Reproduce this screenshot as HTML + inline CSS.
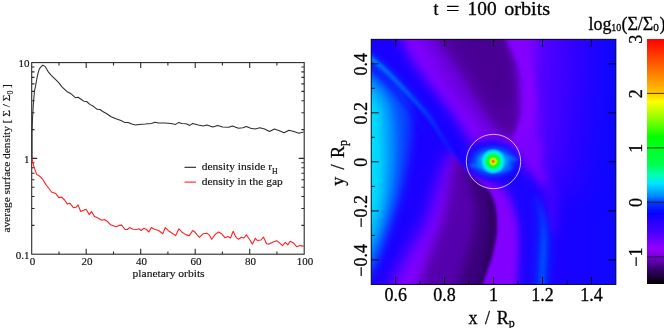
<!DOCTYPE html>
<html><head><meta charset="utf-8"><title>figure</title>
<style>html,body{margin:0;padding:0;background:#fff;overflow:hidden}svg{display:block}</style></head>
<body>
<svg width="664" height="328" viewBox="0 0 664 328">
<rect width="664" height="328" fill="#fff"/>
<g stroke="#2a2a2a" stroke-width="1.1" fill="none">
<rect x="31.7" y="62.6" width="272.5" height="191.6"/>
<path d="M59.0 254.2 v-2.8 M59.0 62.6 v2.8"/>
<path d="M86.2 254.2 v-5.5 M86.2 62.6 v5.5"/>
<path d="M113.5 254.2 v-2.8 M113.5 62.6 v2.8"/>
<path d="M140.7 254.2 v-5.5 M140.7 62.6 v5.5"/>
<path d="M167.9 254.2 v-2.8 M167.9 62.6 v2.8"/>
<path d="M195.2 254.2 v-5.5 M195.2 62.6 v5.5"/>
<path d="M222.4 254.2 v-2.8 M222.4 62.6 v2.8"/>
<path d="M249.7 254.2 v-5.5 M249.7 62.6 v5.5"/>
<path d="M276.9 254.2 v-2.8 M276.9 62.6 v2.8"/>
<path d="M31.7 225.4 h2.8 M304.2 225.4 h-2.8"/>
<path d="M31.7 208.5 h2.8 M304.2 208.5 h-2.8"/>
<path d="M31.7 196.5 h2.8 M304.2 196.5 h-2.8"/>
<path d="M31.7 187.2 h2.8 M304.2 187.2 h-2.8"/>
<path d="M31.7 179.7 h2.8 M304.2 179.7 h-2.8"/>
<path d="M31.7 173.2 h2.8 M304.2 173.2 h-2.8"/>
<path d="M31.7 167.7 h2.8 M304.2 167.7 h-2.8"/>
<path d="M31.7 162.8 h2.8 M304.2 162.8 h-2.8"/>
<path d="M31.7 158.4 h5.5 M304.2 158.4 h-5.5"/>
<path d="M31.7 129.6 h2.8 M304.2 129.6 h-2.8"/>
<path d="M31.7 112.7 h2.8 M304.2 112.7 h-2.8"/>
<path d="M31.7 100.7 h2.8 M304.2 100.7 h-2.8"/>
<path d="M31.7 91.4 h2.8 M304.2 91.4 h-2.8"/>
<path d="M31.7 83.9 h2.8 M304.2 83.9 h-2.8"/>
<path d="M31.7 77.4 h2.8 M304.2 77.4 h-2.8"/>
<path d="M31.7 71.9 h2.8 M304.2 71.9 h-2.8"/>
<path d="M31.7 67.0 h2.8 M304.2 67.0 h-2.8"/>
</g>
<polyline points="32.0,158.5 32.0,133.2 32.4,121.0 33.2,106.3 34.4,91.7 35.9,84.1 36.8,78.8 37.8,74.2 39.1,69.6 40.5,67.3 42.8,65.2 45.1,66.4 46.5,68.7 48.3,71.9 51.5,75.6 55.2,79.2 58.9,82.9 61.7,86.6 64.1,88.8 67.1,91.7 70.2,93.2 73.4,95.9 75.6,97.8 78.0,97.3 80.7,99.0 83.7,101.2 86.6,101.5 89.8,104.4 93.4,106.3 97.1,109.3 100.0,109.5 103.2,111.7 106.8,113.7 111.1,116.8 116.0,118.8 120.9,120.5 124.5,122.4 128.2,122.4 131.8,123.9 135.5,124.9 139.1,124.4 145.2,124.1 151.3,123.4 155.0,122.2 158.7,122.9 164.8,122.9 170.9,123.4 175.7,124.4 178.7,122.4 181.8,123.4 186.1,123.7 189.8,125.4 192.7,123.4 198.3,124.9 203.2,125.9 206.8,124.9 212.9,127.1 217.8,125.4 222.7,127.1 228.8,127.3 232.4,125.9 238.5,128.3 242.9,127.8 246.3,126.6 250.7,128.3 254.9,129.0 259.8,127.8 264.6,129.0 269.5,131.5 274.4,129.0 279.3,130.7 284.1,132.7 289.0,130.2 293.9,131.5 298.8,133.2 303.7,132.0" fill="none" stroke="#2c2c2c" stroke-width="1.05" stroke-linejoin="round"/>
<polyline points="32.0,158.5 33.7,165.9 36.6,174.4 39.8,176.3 42.7,179.3 45.9,184.6 49.0,188.5 51.5,192.0 55.6,193.4 58.8,197.6 61.7,197.1 64.6,200.0 67.3,204.1 69.8,203.2 73.4,207.6 75.9,207.3 78.0,204.9 80.7,211.5 86.1,209.3 89.3,214.6 91.5,211.5 94.6,216.6 98.3,218.3 102.0,220.2 104.4,219.5 107.4,221.5 111.1,225.1 116.0,226.8 119.1,225.4 121.6,225.1 125.0,229.5 127.4,229.5 129.4,227.6 133.0,229.3 136.7,229.5 139.1,228.8 141.1,230.5 144.0,228.3 146.5,229.5 148.9,232.0 151.3,227.6 155.0,229.5 158.7,230.5 162.8,233.7 165.2,227.6 168.4,230.7 172.1,233.2 175.7,235.6 178.9,228.8 181.8,232.0 186.1,234.9 189.3,235.6 192.7,230.5 194.6,231.7 197.1,234.9 199.5,237.3 203.2,233.7 206.8,233.2 209.3,234.9 211.7,239.3 215.4,234.1 218.5,232.0 221.5,233.7 225.1,237.8 228.0,236.6 230.5,238.0 233.2,231.2 235.6,236.6 238.5,239.3 241.5,237.3 243.9,238.0 246.3,234.9 249.5,239.3 252.4,244.1 255.4,238.3 257.3,240.5 261.0,240.0 263.4,237.1 266.6,243.7 269.0,244.1 273.2,242.0 276.8,240.7 279.8,243.2 282.4,245.6 285.4,242.4 287.8,244.9 290.2,241.2 293.4,242.9 296.8,246.8 300.0,245.6 303.7,246.1" fill="none" stroke="#f22" stroke-width="1.1" stroke-linejoin="round"/>
<g font-family="Liberation Serif, serif" font-size="11" fill="#111" stroke="#111" stroke-width="0.15" opacity="0.999">
<text x="32.4" y="265.3" text-anchor="middle">0</text>
<text x="86.9" y="265.3" text-anchor="middle">20</text>
<text x="141.4" y="265.3" text-anchor="middle">40</text>
<text x="195.9" y="265.3" text-anchor="middle">60</text>
<text x="250.4" y="265.3" text-anchor="middle">80</text>
<text x="304.9" y="265.3" text-anchor="middle">100</text>
<text x="29.5" y="66.9" text-anchor="end">10</text>
<text x="29.5" y="162.7" text-anchor="end">1</text>
<text x="29.5" y="258.5" text-anchor="end">0.1</text>
<text x="132.6" y="276.8" textLength="72" lengthAdjust="spacingAndGlyphs">planetary orbits</text>
<text x="201.7" y="169.8" textLength="76" lengthAdjust="spacingAndGlyphs">density inside r<tspan font-size="7.5" dy="4.2">H</tspan></text>
<text x="201.7" y="184.8" textLength="81" lengthAdjust="spacingAndGlyphs">density in the gap</text>
<text transform="translate(9.5,232.6) rotate(-90)" textLength="148.5" lengthAdjust="spacingAndGlyphs">average surface density [ Σ / Σ<tspan font-size="7.5" dy="3.3">0</tspan><tspan dy="-3.3"> ]</tspan></text>
</g>
<path d="M184.5 167.3 H196" stroke="#222" stroke-width="1.1"/>
<path d="M184.5 182.1 H196" stroke="#f22" stroke-width="1.1"/>
<defs>
<clipPath id="mc"><rect x="371.2" y="39.3" width="244.7" height="245.1"/></clipPath>
<clipPath id="cl"><path d="M350.0 42.0 C353.6 44.8 365.7 54.3 371.5 59.0 C377.3 63.7 380.2 65.7 385.0 70.0 C389.8 74.3 395.2 80.0 400.0 85.0 C404.8 90.0 409.8 95.5 414.0 100.0 C418.2 104.5 422.0 108.5 425.0 112.0 C428.0 115.5 429.5 117.3 432.0 121.0 C434.5 124.7 437.3 129.8 440.0 134.0 C442.7 138.2 445.3 142.2 448.0 146.0 C450.7 149.8 453.3 153.5 456.0 157.0 C458.7 160.5 461.3 163.8 464.0 167.0 C466.7 170.2 469.3 173.3 472.0 176.0 C474.7 178.7 477.5 180.8 480.0 183.0 C482.5 185.2 485.0 186.7 487.0 189.0 C489.0 191.3 490.7 194.2 492.0 197.0 C493.3 199.8 494.2 201.8 495.0 206.0 C495.8 210.2 496.8 216.8 497.0 222.0 C497.2 227.2 496.7 232.0 496.0 237.0 C495.3 242.0 494.0 247.7 493.0 252.0 C492.0 256.3 491.2 259.3 490.0 263.0 C488.8 266.7 488.0 267.8 486.0 274.0 C484.0 280.2 479.3 295.7 478.0 300.0 L300 300 L300 -50 L349 -50 Z"/></clipPath>
<clipPath id="cr"><path d="M350.0 42.0 C353.6 44.8 365.7 54.3 371.5 59.0 C377.3 63.7 380.2 65.7 385.0 70.0 C389.8 74.3 395.2 80.0 400.0 85.0 C404.8 90.0 409.8 95.5 414.0 100.0 C418.2 104.5 422.0 108.5 425.0 112.0 C428.0 115.5 429.5 117.3 432.0 121.0 C434.5 124.7 437.3 129.8 440.0 134.0 C442.7 138.2 445.3 142.2 448.0 146.0 C450.7 149.8 453.3 153.5 456.0 157.0 C458.7 160.5 461.3 163.8 464.0 167.0 C466.7 170.2 469.3 173.3 472.0 176.0 C474.7 178.7 477.5 180.8 480.0 183.0 C482.5 185.2 485.0 186.7 487.0 189.0 C489.0 191.3 490.7 194.2 492.0 197.0 C493.3 199.8 494.2 201.8 495.0 206.0 C495.8 210.2 496.8 216.8 497.0 222.0 C497.2 227.2 496.7 232.0 496.0 237.0 C495.3 242.0 494.0 247.7 493.0 252.0 C492.0 256.3 491.2 259.3 490.0 263.0 C488.8 266.7 488.0 267.8 486.0 274.0 C484.0 280.2 479.3 295.7 478.0 300.0 L700 300 L700 -50 L350 -50 Z"/></clipPath>
<filter id="b1" filterUnits="userSpaceOnUse" x="260" y="-80" width="480" height="480" color-interpolation-filters="sRGB"><feGaussianBlur stdDeviation="1.2"/></filter>
<filter id="b15" filterUnits="userSpaceOnUse" x="260" y="-80" width="480" height="480" color-interpolation-filters="sRGB"><feGaussianBlur stdDeviation="1.6"/></filter>
<filter id="b2" filterUnits="userSpaceOnUse" x="260" y="-80" width="480" height="480" color-interpolation-filters="sRGB"><feGaussianBlur stdDeviation="2"/></filter>
<filter id="b3" filterUnits="userSpaceOnUse" x="260" y="-80" width="480" height="480" color-interpolation-filters="sRGB"><feGaussianBlur stdDeviation="3"/></filter>
<filter id="b4" filterUnits="userSpaceOnUse" x="260" y="-80" width="480" height="480" color-interpolation-filters="sRGB"><feGaussianBlur stdDeviation="4"/></filter>
<filter id="b5" filterUnits="userSpaceOnUse" x="260" y="-80" width="480" height="480" color-interpolation-filters="sRGB"><feGaussianBlur stdDeviation="5"/></filter>
<filter id="b6" filterUnits="userSpaceOnUse" x="260" y="-80" width="480" height="480" color-interpolation-filters="sRGB"><feGaussianBlur stdDeviation="6"/></filter>
<filter id="b8" filterUnits="userSpaceOnUse" x="260" y="-80" width="480" height="480" color-interpolation-filters="sRGB"><feGaussianBlur stdDeviation="8"/></filter>
<filter id="b10" filterUnits="userSpaceOnUse" x="260" y="-80" width="480" height="480" color-interpolation-filters="sRGB"><feGaussianBlur stdDeviation="10"/></filter>
<filter id="b12" filterUnits="userSpaceOnUse" x="260" y="-80" width="480" height="480" color-interpolation-filters="sRGB"><feGaussianBlur stdDeviation="12"/></filter>
<filter id="b18" filterUnits="userSpaceOnUse" x="260" y="-80" width="480" height="480" color-interpolation-filters="sRGB"><feGaussianBlur stdDeviation="18"/></filter>
<radialGradient id="cy" gradientUnits="userSpaceOnUse" cx="0" cy="0" r="1" gradientTransform="translate(364,172) scale(54,124)">
<stop offset="0" stop-color="#00e4ff" stop-opacity="1"/>
<stop offset="0.36" stop-color="#00dcff" stop-opacity="1"/>
<stop offset="0.5" stop-color="#00b8ff" stop-opacity="1"/>
<stop offset="0.62" stop-color="#0080ff" stop-opacity="1"/>
<stop offset="0.74" stop-color="#0048ff" stop-opacity="0.9"/>
<stop offset="0.88" stop-color="#0c18ff" stop-opacity="0.6"/>
<stop offset="1" stop-color="#1800ff" stop-opacity="0"/>
</radialGradient>
<radialGradient id="pl" gradientUnits="userSpaceOnUse" cx="493.2" cy="161.4" r="13">
<stop offset="0" stop-color="#ff3000" stop-opacity="1"/>
<stop offset="0.06" stop-color="#ff5800" stop-opacity="1"/>
<stop offset="0.14" stop-color="#ffd000" stop-opacity="1"/>
<stop offset="0.24" stop-color="#a8ff00" stop-opacity="1"/>
<stop offset="0.38" stop-color="#10ff10" stop-opacity="1"/>
<stop offset="0.54" stop-color="#00ff70" stop-opacity="1"/>
<stop offset="0.68" stop-color="#00f8d0" stop-opacity="1"/>
<stop offset="0.8" stop-color="#00d8ff" stop-opacity="1"/>
<stop offset="0.91" stop-color="#00b8ff" stop-opacity="0.7"/>
<stop offset="1" stop-color="#00a0ff" stop-opacity="0"/>
</radialGradient>
<radialGradient id="ph" gradientUnits="userSpaceOnUse" cx="0" cy="0" r="1" gradientTransform="translate(493.2,161.4) scale(32,22)">
<stop offset="0" stop-color="#00b4ff" stop-opacity="1"/>
<stop offset="0.36" stop-color="#00a4ff" stop-opacity="1"/>
<stop offset="0.48" stop-color="#0078ff" stop-opacity="1"/>
<stop offset="0.62" stop-color="#0840ff" stop-opacity="0.85"/>
<stop offset="0.8" stop-color="#1410ff" stop-opacity="0.5"/>
<stop offset="1" stop-color="#1800ff" stop-opacity="0"/>
</radialGradient>
<linearGradient id="sg" gradientUnits="userSpaceOnUse" x1="371" y1="59" x2="460" y2="160"><stop offset="0" stop-color="#0088ff" stop-opacity="1"/><stop offset="0.35" stop-color="#0070ff" stop-opacity="0.8"/><stop offset="0.6" stop-color="#0058ff" stop-opacity="0.55"/><stop offset="0.85" stop-color="#0048ff" stop-opacity="0.3"/><stop offset="1" stop-color="#0040ff" stop-opacity="0.05"/></linearGradient>
<linearGradient id="sg2" gradientUnits="userSpaceOnUse" x1="371" y1="59" x2="460" y2="160"><stop offset="0" stop-color="#0040ff" stop-opacity="1"/><stop offset="0.4" stop-color="#0030ff" stop-opacity="0.6"/><stop offset="0.7" stop-color="#0020ff" stop-opacity="0.2"/><stop offset="1" stop-color="#0020ff" stop-opacity="0"/></linearGradient>
<linearGradient id="bg" gradientUnits="userSpaceOnUse" x1="371" y1="0" x2="616" y2="0"><stop offset="0" stop-color="#1a00ff"/><stop offset="0.75" stop-color="#1c00ff"/><stop offset="1" stop-color="#0e08ff"/></linearGradient>
<linearGradient id="wg" gradientUnits="userSpaceOnUse" x1="0" y1="192" x2="0" y2="245"><stop offset="0" stop-color="#0050ff" stop-opacity="0"/><stop offset="1" stop-color="#0050ff" stop-opacity="1"/></linearGradient>
<linearGradient id="wg2" gradientUnits="userSpaceOnUse" x1="0" y1="192" x2="0" y2="245"><stop offset="0" stop-color="#0030ff" stop-opacity="0"/><stop offset="1" stop-color="#0030ff" stop-opacity="1"/></linearGradient>
</defs>
<g clip-path="url(#mc)">
<rect x="371" y="38" width="246" height="247" fill="url(#bg)"/>
<path d="M500.0 -20.0 L585.0 -20.0 L580.0 100.0 L570.0 190.0 L500.0 190.0 Z" fill="#4000ff" filter="url(#b18)"/>
<path d="M500.0 0.0 L550.0 0.0 L548.0 100.0 L543.0 165.0 L500.0 165.0 Z" fill="#5a00ff" filter="url(#b12)"/>
<g filter="url(#b15)">
<g clip-path="url(#cr)">
<path d="M386.0 10.0 L410.0 58.0 L429.0 84.0 L451.0 112.0 L467.0 136.0 L474.0 150.0 L476.0 160.0 L470.0 176.0 L470.0 300.0 L520.0 300.0 L522.0 252.0 L522.0 226.0 L520.0 199.0 L526.0 185.0 L536.0 170.0 L537.0 148.0 L537.0 118.0 L533.0 88.0 L535.0 58.0 L536.0 10.0 Z" fill="#8200ff" filter="url(#b6)"/>
<path d="M470.0 170.0 L516.0 185.0 L518.0 199.0 L516.0 226.0 L514.0 252.0 L510.0 300.0 L460.0 300.0 Z" fill="#8200ff" filter="url(#b5)"/>
</g>
<g clip-path="url(#cl)">
<path d="M452.0 150.0 L500.0 150.0 L520.0 300.0 L384.0 300.0 L396.0 274.0 L408.0 252.0 L426.0 222.0 L436.0 190.0 L444.0 165.0 Z" fill="#8200ff" filter="url(#b8)"/>
<path d="M454.0 156.0 L510.0 160.0 L510.0 300.0 L414.0 300.0 L430.0 252.0 L442.0 222.0 L448.0 195.0 L451.0 172.0 Z" fill="#5400ac" filter="url(#b6)"/>
<path d="M464.0 168.0 L510.0 172.0 L510.0 300.0 L452.0 300.0 L465.0 262.0 L473.0 235.0 L476.0 210.0 L472.0 190.0 Z" fill="#3c007c" filter="url(#b4)"/>
<path d="M484.0 186.0 L510.0 186.0 L510.0 300.0 L474.0 300.0 L484.0 262.0 L489.0 235.0 L490.0 212.0 L487.0 196.0 Z" fill="#2c0060" filter="url(#b3)"/>
</g>
</g>
<path d="M408.0 10.0 L422.0 38.0 L448.0 88.0 L472.0 118.0 L486.0 138.0 L515.0 138.0 L519.0 120.0 L518.0 96.0 L516.0 66.0 L507.0 38.0 L504.0 10.0 Z" fill="#6c00e0" filter="url(#b6)"/>
<path d="M424.0 10.0 L436.0 38.0 L456.0 66.0 L474.0 96.0 L490.0 120.0 L502.0 134.0 L515.0 138.0 L519.0 120.0 L518.0 96.0 L516.0 66.0 L507.0 38.0 L504.0 10.0 Z" fill="#5000a0" filter="url(#b5)"/>
<path d="M440.0 10.0 L452.0 38.0 L472.0 66.0 L486.0 90.0 L496.0 104.0 L510.0 104.0 L512.0 90.0 L510.0 66.0 L500.0 38.0 L496.0 10.0 Z" fill="#480094" filter="url(#b5)"/>
<path d="M500.0 10.0 L506.0 38.0 L518.0 62.0 L523.0 78.0 L524.5 100.0 L522.0 116.0 L516.0 132.0 L512.0 140.0 L528.0 140.0 L534.0 116.0 L536.0 100.0 L534.0 78.0 L530.0 62.0 L521.0 38.0 L518.0 10.0 Z" fill="#8400ff" filter="url(#b2)"/>
<path d="M521.0 160.0 L548.0 160.0 L558.0 200.0 L557.0 235.0 L548.0 235.0 L542.0 197.0 L532.0 178.0 Z" fill="#4200ff" filter="url(#b5)"/>
<path d="M518.0 140.0 L540.0 140.0 L543.0 165.0 L547.0 185.0 L540.0 185.0 L532.0 174.0 L521.0 164.0 Z" fill="#7800ff" filter="url(#b4)"/>
<path d="M512.0 160.0 C513.5 161.2 517.7 164.0 521.0 167.0 C524.3 170.0 528.7 173.0 532.0 178.0 C535.3 183.0 538.8 190.0 541.0 197.0 C543.2 204.0 544.0 212.8 545.0 220.0 C546.0 227.2 546.5 233.3 547.0 240.0 C547.5 246.7 548.0 250.0 548.0 260.0 C548.0 270.0 547.2 293.3 547.0 300.0 L519.0 300.0 C519.3 293.3 520.7 270.0 521.0 260.0 C521.3 250.0 521.5 246.7 521.0 240.0 C520.5 233.3 520.0 227.3 518.0 220.0 C516.0 212.7 511.8 201.7 509.0 196.0 C506.2 190.3 503.5 188.7 501.0 186.0 C498.5 183.3 495.2 181.0 494.0 180.0 Z" fill="#1c04ff" filter="url(#b4)"/>
<path d="M534.0 192.0 C535.0 194.7 538.5 203.0 540.0 208.0 C541.5 213.0 542.4 216.7 543.0 222.0 C543.6 227.3 543.8 234.5 543.8 240.0 C543.8 245.5 543.5 248.5 543.2 255.0 C542.9 261.5 542.5 271.5 542.0 279.0 C541.5 286.5 540.3 296.5 540.0 300.0" fill="none" stroke="url(#wg2)" stroke-width="12" filter="url(#b4)"/>
<path d="M534.0 192.0 C535.0 194.7 538.5 203.0 540.0 208.0 C541.5 213.0 542.4 216.7 543.0 222.0 C543.6 227.3 543.8 234.5 543.8 240.0 C543.8 245.5 543.5 248.5 543.2 255.0 C542.9 261.5 542.5 271.5 542.0 279.0 C541.5 286.5 540.3 296.5 540.0 300.0" fill="none" stroke="url(#wg)" stroke-width="5" filter="url(#b2)"/>
<path d="M350.0 48.0 C353.5 50.7 365.2 59.3 371.0 64.0 C376.8 68.7 380.2 71.5 385.0 76.0 C389.8 80.5 396.2 86.7 400.0 91.0 C403.8 95.3 406.2 97.2 408.0 102.0 C409.8 106.8 410.8 112.0 411.0 120.0 C411.2 128.0 410.2 140.0 409.0 150.0 C407.8 160.0 405.7 171.7 404.0 180.0 C402.3 188.3 401.2 192.5 399.0 200.0 C396.8 207.5 393.7 217.0 391.0 225.0 C388.3 233.0 385.7 240.8 383.0 248.0 C380.3 255.2 378.8 262.0 375.0 268.0 C371.2 274.0 362.5 281.3 360.0 284.0 L330 284 L330 48 Z" fill="#0848ff" filter="url(#b5)"/>
<path d="M350.0 62.0 C353.7 64.7 366.3 73.3 372.0 78.0 C377.7 82.7 380.7 85.7 384.0 90.0 C387.3 94.3 390.0 98.2 392.0 104.0 C394.0 109.8 395.3 115.7 396.0 125.0 C396.7 134.3 396.5 149.2 396.0 160.0 C395.5 170.8 394.5 180.8 393.0 190.0 C391.5 199.2 389.3 206.7 387.0 215.0 C384.7 223.3 381.7 232.8 379.0 240.0 C376.3 247.2 374.2 253.0 371.0 258.0 C367.8 263.0 361.8 268.0 360.0 270.0 L330 270 L330 62 Z" fill="#0090ff" filter="url(#b5)"/>
<path d="M350.0 76.0 C353.7 78.3 367.0 86.0 372.0 90.0 C377.0 94.0 377.8 95.3 380.0 100.0 C382.2 104.7 384.0 108.0 385.0 118.0 C386.0 128.0 386.2 147.2 386.0 160.0 C385.8 172.8 385.2 185.3 384.0 195.0 C382.8 204.7 381.0 210.8 379.0 218.0 C377.0 225.2 375.2 232.3 372.0 238.0 C368.8 243.7 362.0 249.7 360.0 252.0 L330 252 L330 76 Z" fill="#00c4ff" filter="url(#b5)"/>
<path d="M350.0 92.0 C353.7 94.0 367.5 99.7 372.0 104.0 C376.5 108.3 375.8 108.7 377.0 118.0 C378.2 127.3 379.0 147.2 379.0 160.0 C379.0 172.8 378.2 185.8 377.0 195.0 C375.8 204.2 374.8 209.2 372.0 215.0 C369.2 220.8 362.0 227.5 360.0 230.0 L330 230 L330 92 Z" fill="#00e0ff" filter="url(#b5)"/>
<path d="M350.0 34.0 C353.6 36.8 365.3 46.0 371.5 51.0 C377.7 56.0 381.6 59.2 387.0 64.0 C392.4 68.8 398.8 75.0 404.0 80.0 C409.2 85.0 413.7 89.5 418.0 94.0 C422.3 98.5 426.3 102.7 430.0 107.0 C433.7 111.3 437.0 115.7 440.0 120.0 C443.0 124.3 445.3 128.7 448.0 133.0 C450.7 137.3 454.7 143.8 456.0 146.0" fill="none" stroke="#1a00ff" stroke-width="9" filter="url(#b3)"/>
<path d="M350.0 42.0 C353.6 44.8 365.7 54.3 371.5 59.0 C377.3 63.7 380.2 65.7 385.0 70.0 C389.8 74.3 395.2 80.0 400.0 85.0 C404.8 90.0 409.8 95.5 414.0 100.0 C418.2 104.5 422.0 108.5 425.0 112.0 C428.0 115.5 429.5 117.3 432.0 121.0 C434.5 124.7 437.3 129.8 440.0 134.0 C442.7 138.2 445.3 142.2 448.0 146.0 C450.7 149.8 454.7 155.2 456.0 157.0" fill="none" stroke="url(#sg2)" stroke-width="9" filter="url(#b3)"/>
<path d="M350.0 42.0 C353.6 44.8 365.7 54.3 371.5 59.0 C377.3 63.7 380.2 65.7 385.0 70.0 C389.8 74.3 395.2 80.0 400.0 85.0 C404.8 90.0 409.8 95.5 414.0 100.0 C418.2 104.5 422.0 108.5 425.0 112.0 C428.0 115.5 429.5 117.3 432.0 121.0 C434.5 124.7 437.3 129.8 440.0 134.0 C442.7 138.2 445.3 142.2 448.0 146.0 C450.7 149.8 453.3 153.5 456.0 157.0 C458.7 160.5 462.7 165.3 464.0 167.0" fill="none" stroke="url(#sg)" stroke-width="3.6" filter="url(#b15)"/>
<path d="M360.0 60.0 C362.0 61.5 367.0 64.7 372.0 69.0 C377.0 73.3 384.0 79.5 390.0 86.0 C396.0 92.5 402.3 100.7 408.0 108.0 C413.7 115.3 421.3 126.3 424.0 130.0" fill="none" stroke="#1010ff" stroke-width="2.5" filter="url(#b2)"/>
<ellipse cx="493.5" cy="161.5" rx="27" ry="20" fill="#1402ff" filter="url(#b5)" transform="rotate(20 493.5 161.5)"/>
<ellipse cx="493.2" cy="161.4" rx="32" ry="22" fill="url(#ph)"/>
<path d="M486 164 C481 167 476 167 470 165" fill="none" stroke="#0094ff" stroke-width="3.5" opacity="0.55" filter="url(#b15)"/>
<path d="M500 159 C505 156 511 157 517 160" fill="none" stroke="#0094ff" stroke-width="3.5" opacity="0.5" filter="url(#b15)"/>
<path d="M498 169 C503 171 508 170 512 167" fill="none" stroke="#0094ff" stroke-width="3" opacity="0.4" filter="url(#b15)"/>
<circle cx="493.2" cy="161.4" r="13" fill="url(#pl)"/>
<circle cx="493.5" cy="161.5" r="27.2" fill="none" stroke="#d8c0f2" stroke-width="0.95"/>
</g>
<g stroke="#000" stroke-width="0.9" fill="none">
<rect x="371.2" y="39.3" width="244.7" height="245.1"/>
<path d="M395.7 284.4 v-7.5"/>
<path d="M395.7 39.3 v7.5"/>
<path d="M371.2 259.9 h7.5"/>
<path d="M615.9 259.9 h-7.5"/>
<path d="M420.1 284.4 v-3.8"/>
<path d="M371.2 235.4 h3.8"/>
<path d="M444.6 284.4 v-7.5"/>
<path d="M444.6 39.3 v7.5"/>
<path d="M371.2 210.9 h7.5"/>
<path d="M615.9 210.9 h-7.5"/>
<path d="M469.1 284.4 v-3.8"/>
<path d="M371.2 186.4 h3.8"/>
<path d="M493.5 284.4 v-7.5"/>
<path d="M493.5 39.3 v7.5"/>
<path d="M371.2 161.8 h7.5"/>
<path d="M615.9 161.8 h-7.5"/>
<path d="M518.0 284.4 v-3.8"/>
<path d="M371.2 137.3 h3.8"/>
<path d="M542.5 284.4 v-7.5"/>
<path d="M542.5 39.3 v7.5"/>
<path d="M371.2 112.8 h7.5"/>
<path d="M615.9 112.8 h-7.5"/>
<path d="M567.0 284.4 v-3.8"/>
<path d="M371.2 88.3 h3.8"/>
<path d="M591.4 284.4 v-7.5"/>
<path d="M591.4 39.3 v7.5"/>
<path d="M371.2 63.8 h7.5"/>
<path d="M615.9 63.8 h-7.5"/>
</g>
<g font-family="Liberation Serif, serif" font-size="18" fill="#000" stroke="#000" stroke-width="0.3" opacity="0.999">
<text x="395.7" y="300.6" text-anchor="middle">0.6</text>
<text x="444.6" y="300.6" text-anchor="middle">0.8</text>
<text x="493.5" y="300.6" text-anchor="middle">1</text>
<text x="542.5" y="300.6" text-anchor="middle">1.2</text>
<text x="591.4" y="300.6" text-anchor="middle">1.4</text>
<text transform="translate(366.6,64.3) rotate(-90)" text-anchor="middle">0.4</text>
<text transform="translate(366.6,113.3) rotate(-90)" text-anchor="middle">0.2</text>
<text transform="translate(366.6,162.3) rotate(-90)" text-anchor="middle">0</text>
<text transform="translate(366.6,211.4) rotate(-90)" text-anchor="middle">−0.2</text>
<text transform="translate(366.6,260.4) rotate(-90)" text-anchor="middle">−0.4</text>
<text y="324"><tspan x="468.6">x</tspan><tspan x="485">/</tspan><tspan x="496.7">R</tspan><tspan font-size="12" dy="3">p</tspan></text>
<text transform="translate(344.3,185.8) rotate(-90)"><tspan x="0">y</tspan><tspan x="16.2">/</tspan><tspan x="27.9">R</tspan><tspan font-size="12" dy="3">p</tspan></text>
<text x="433.6" y="14.6">t</text><text x="446" y="14.6" textLength="13.4" lengthAdjust="spacingAndGlyphs">=</text><text x="467.6" y="14.6" textLength="29" lengthAdjust="spacingAndGlyphs">100</text><text x="504.2" y="14.6" textLength="46" lengthAdjust="spacingAndGlyphs">orbits</text>
<text x="588.6" y="29.6">log</text><text x="611.3" y="30.6" font-size="11.2" textLength="10" lengthAdjust="spacingAndGlyphs">10</text><text x="621.4" y="29.6">(Σ/Σ</text><text x="653.2" y="30.6" font-size="11.2" textLength="5.6" lengthAdjust="spacingAndGlyphs">0</text><text x="659.4" y="29.6">)</text>
<text transform="translate(642.4,39.3) rotate(-90)" text-anchor="middle">3</text>
<text transform="translate(642.4,93.7) rotate(-90)" text-anchor="middle">2</text>
<text transform="translate(642.4,148.2) rotate(-90)" text-anchor="middle">1</text>
<text transform="translate(642.4,202.6) rotate(-90)" text-anchor="middle">0</text>
<text transform="translate(642.4,257.1) rotate(-90)" text-anchor="middle">−1</text>
</g>
<defs><linearGradient id="cb" x1="0" y1="0" x2="0" y2="1">
<stop offset="0.0000" stop-color="rgb(255,0,0)"/>
<stop offset="0.1111" stop-color="rgb(255,100,0)"/>
<stop offset="0.2222" stop-color="rgb(255,200,0)"/>
<stop offset="0.2556" stop-color="rgb(255,255,0)"/>
<stop offset="0.3333" stop-color="rgb(128,255,0)"/>
<stop offset="0.4000" stop-color="rgb(0,255,0)"/>
<stop offset="0.5111" stop-color="rgb(0,255,80)"/>
<stop offset="0.5556" stop-color="rgb(0,255,180)"/>
<stop offset="0.5889" stop-color="rgb(0,230,255)"/>
<stop offset="0.6444" stop-color="rgb(0,130,255)"/>
<stop offset="0.6667" stop-color="rgb(0,60,255)"/>
<stop offset="0.7111" stop-color="rgb(10,0,255)"/>
<stop offset="0.7889" stop-color="rgb(70,0,255)"/>
<stop offset="0.8556" stop-color="rgb(150,0,255)"/>
<stop offset="0.8889" stop-color="rgb(120,0,210)"/>
<stop offset="0.9333" stop-color="rgb(60,0,120)"/>
<stop offset="1.0000" stop-color="rgb(0,0,0)"/>
</linearGradient></defs>
<rect x="647" y="39" width="20" height="245" fill="url(#cb)"/>
<path d="M647 93.4 H664" stroke="#111" stroke-width="0.8"/>
<path d="M647 147.9 H664" stroke="#111" stroke-width="0.8"/>
<path d="M647 202.3 H664" stroke="#111" stroke-width="0.8"/>
<path d="M647 256.8 H664" stroke="#111" stroke-width="0.8"/>
</svg>
</body></html>
